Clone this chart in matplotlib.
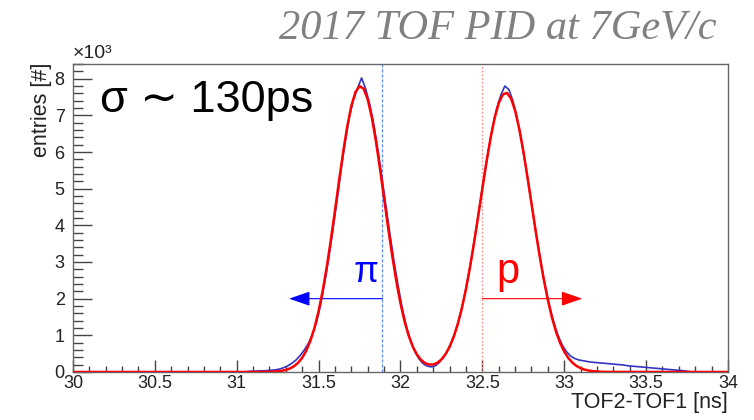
import matplotlib

matplotlib.use("Agg")
import matplotlib.pyplot as plt
import numpy as np
from matplotlib.ticker import FuncFormatter, MultipleLocator

plt.rcParams["font.family"] = ["Liberation Sans", "DejaVu Sans"]

# x range of the TOF difference axis [ns] and y range [x10^3 entries]
X_RANGE = (30.0, 34.0)
Y_RANGE = (0.0, 8.4)

# measured histogram (blue), 0.025 ns bins starting at 31.0 ns, in 10^3 entries
hist_start = 31.0
hist_width = 0.025
hist_counts = [
    0.00, 0.00, 0.01, 0.02, 0.02, 0.03, 0.03, 0.04, 0.05, 0.06,
    0.08, 0.12, 0.17, 0.24, 0.33, 0.45, 0.60, 0.78, 1.02, 1.36,
    1.84, 2.44, 3.12, 3.88, 4.68, 5.52, 6.28, 6.95, 7.42, 7.74,
    8.02, 7.72, 7.30, 6.74, 6.05, 5.28, 4.48, 3.70, 2.96, 2.30,
    1.70, 1.22, 0.84, 0.56, 0.36, 0.23, 0.16, 0.14, 0.17, 0.26,
    0.40, 0.59, 0.83, 1.14, 1.53, 2.01, 2.58, 3.22, 3.93, 4.66,
    5.38, 6.07, 6.68, 7.18, 7.55, 7.80, 7.70, 7.38, 6.92, 6.35,
    5.68, 4.97, 4.24, 3.52, 2.86, 2.27, 1.76, 1.33, 0.99, 0.74,
    0.56, 0.44, 0.37, 0.33, 0.31, 0.29, 0.27, 0.26, 0.25, 0.24,
    0.23, 0.22, 0.21, 0.20, 0.19, 0.17, 0.16, 0.15, 0.14, 0.13,
    0.12, 0.11, 0.10, 0.09, 0.08, 0.07, 0.06, 0.05, 0.04, 0.03,
    0.01, 0.00,
]

# double-gaussian fit (red), sampled every 0.025 ns from 31.1 ns
fit_start = 31.1
fit_step = 0.025
fit_values = [
    0.000, 0.001, 0.001, 0.003, 0.005, 0.010, 0.018, 0.033, 0.057, 0.096,
    0.158, 0.252, 0.390, 0.585, 0.854, 1.209, 1.662, 2.217, 2.871, 3.610,
    4.405, 5.219, 6.001, 6.699, 7.259, 7.635, 7.795, 7.726, 7.434, 6.942,
    6.294, 5.538, 4.731, 3.923, 3.157, 2.467, 1.873, 1.381, 0.990, 0.693,
    0.478, 0.332, 0.243, 0.203, 0.205, 0.251, 0.342, 0.485, 0.687, 0.957,
    1.308, 1.742, 2.265, 2.870, 3.545, 4.266, 5.006, 5.724, 6.379, 6.930,
    7.336, 7.570, 7.612, 7.462, 7.128, 6.637, 6.023, 5.327, 4.592, 3.858,
    3.159, 2.522, 1.961, 1.487, 1.099, 0.791, 0.555, 0.380, 0.254, 0.165,
    0.104, 0.064, 0.039, 0.023, 0.013, 0.007, 0.004, 0.002, 0.001,
]

# PID cuts [ns] and the arrows that mark the selected side
PI_CUT = 31.89
P_CUT = 32.5
ARROW_LEVEL = 2.0
PI_ARROW_END = 31.32
P_ARROW_END = 33.11

fig = plt.figure(figsize=(7.54, 4.20), dpi=100)
ax = fig.add_axes([0.0968, 0.1143, 0.8687, 0.7333])

# histogram drawn through bin centres (fine binning in the original)
centres = hist_start + hist_width * (np.arange(len(hist_counts)) + 0.5)
ax.plot(centres, hist_counts, color="#3434c4", lw=1.2, zorder=3)

fit_x = fit_start + fit_step * np.arange(len(fit_values))
fx = np.concatenate([[X_RANGE[0]], fit_x, [X_RANGE[1]]])
fy = np.concatenate([[0.0], fit_values, [0.0]])
ax.plot(fx, fy, color="red", lw=1.8, zorder=4, solid_joinstyle="round")

# cut lines
ax.axvline(PI_CUT, color="#5a8cff", lw=0.9, ls=(0, (2.5, 1.5)), zorder=2)
ax.axvline(P_CUT, color="#ff9090", lw=0.9, ls=(0, (1.5, 1.5)), zorder=2)

arrow = "-|>,head_length=1.3,head_width=0.45"
ax.annotate("", xy=(PI_ARROW_END, ARROW_LEVEL), xytext=(PI_CUT, ARROW_LEVEL),
            arrowprops=dict(arrowstyle=arrow, color="blue", lw=0.8,
                            shrinkA=0, shrinkB=0), zorder=2)
ax.annotate("", xy=(P_ARROW_END, ARROW_LEVEL), xytext=(P_CUT, ARROW_LEVEL),
            arrowprops=dict(arrowstyle=arrow, color="red", lw=0.8,
                            shrinkA=0, shrinkB=0), zorder=2)

ax.text(31.79, 2.72, "π", color="blue", fontsize=26, ha="center", va="center")
ax.text(32.655, 2.72, "p", color="red", fontsize=30, ha="center", va="center")
ax.text(0.041, 0.883, "σ ∼ 130ps", transform=ax.transAxes, fontsize=32.5,
        ha="left", va="center", color="black")

ax.set_xlim(*X_RANGE)
ax.set_ylim(*Y_RANGE)
ax.xaxis.set_major_locator(MultipleLocator(0.5))
ax.xaxis.set_minor_locator(MultipleLocator(0.1))
ax.yaxis.set_major_locator(MultipleLocator(1))
ax.yaxis.set_minor_locator(MultipleLocator(0.2))
ax.xaxis.set_major_formatter(FuncFormatter(lambda v, p: f"{v:g}"))

ax.tick_params(axis="x", which="major", direction="in", length=9, width=1.0,
               color="#444444", labelsize=13, labelcolor="#222222", pad=2)
ax.tick_params(axis="x", which="minor", direction="in", length=4.5, width=1.0, color="#444444")
ax.tick_params(axis="y", which="major", direction="in", length=14, width=1.0,
               color="#444444", labelsize=13, labelcolor="#222222", pad=6)
ax.tick_params(axis="y", which="minor", direction="in", length=7, width=1.0, color="#444444")
for s in ax.spines.values():
    s.set_color("#666666")
    s.set_linewidth(1.0)

ax.text(0.0, 1.005, "×10³", transform=ax.transAxes, fontsize=14, color="#222222",
        ha="left", va="bottom")
fig.text(0.0557, 0.852, "entries [#]", rotation=90, fontsize=15.5, color="#222222",
         ha="center", va="top")
fig.text(0.9655, 0.066, "TOF2-TOF1 [ns]", fontsize=15.5, color="#222222",
         ha="right", va="top")
fig.text(0.950, 0.933, "2017 TOF PID at 7GeV/c", fontsize=30.5, color="#808080",
         family="Liberation Serif", style="italic", ha="right", va="center")

fig.savefig("out.png", dpi=100)
